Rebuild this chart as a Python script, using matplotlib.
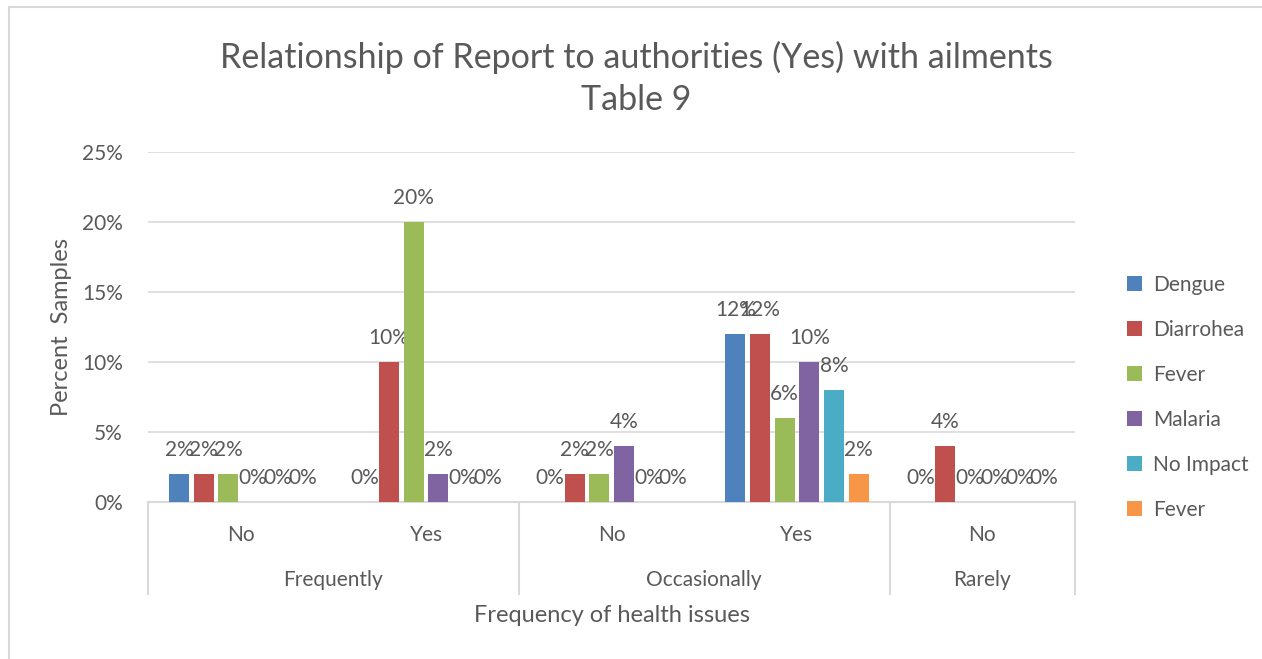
import numpy as np
import matplotlib
matplotlib.use('Agg')
import matplotlib.pyplot as plt
import matplotlib.transforms as mtransforms
from matplotlib.lines import Line2D

plt.rcParams['font.family'] = ['Lato', 'DejaVu Sans']

# sub-categories (report to authorities) and their outer groups (frequency)
sub_labels = ['No', 'Yes', 'No', 'Yes', 'No']
groups = ['Frequently', 'Occasionally', 'Rarely']
group_spans = [(0, 1), (2, 3), (4, 4)]

series = ['Dengue', 'Diarrohea', 'Fever', 'Malaria', 'No Impact', 'Fever']
dengue = [0.02, 0.00, 0.00, 0.12, 0.00]
diarrohea = [0.02, 0.10, 0.02, 0.12, 0.04]
fever = [0.02, 0.20, 0.02, 0.06, 0.00]
malaria = [0.00, 0.02, 0.04, 0.10, 0.00]
no_impact = [0.00, 0.00, 0.00, 0.08, 0.00]
fever_2 = [0.00, 0.00, 0.00, 0.02, 0.00]
values = [dengue, diarrohea, fever, malaria, no_impact, fever_2]

colors = ['#4F81BD', '#C0504D', '#9BBB59', '#8064A2', '#4BACC6', '#F79646']
text_c = '#595959'
grid_c = '#D9D9D9'

W, H = 1262, 659
fig = plt.figure(figsize=(W / 100, H / 100), dpi=100)
fig.patch.set_facecolor('white')

# outer chart border (top and left edges visible)
fig.add_artist(Line2D([9 / W, 1], [1 - 7 / H, 1 - 7 / H], color=grid_c, lw=1.5,
                      transform=fig.transFigure))
fig.add_artist(Line2D([9 / W, 9 / W], [0, 1 - 7 / H], color=grid_c, lw=1.5,
                      transform=fig.transFigure))

left, right, top, bottom = 148, 1075, 152, 502
ax = fig.add_axes([left / W, 1 - bottom / H, (right - left) / W, (bottom - top) / H])

x = np.arange(len(sub_labels))
pitch = 0.133
width = 0.108
for i, (name, vals, c) in enumerate(zip(series, values, colors)):
    pos = x + (i - 2.5) * pitch
    ax.bar(pos, vals, width, color=c, label=name, zorder=3)
    for xp, v in zip(pos, vals):
        ax.annotate(f'{v * 100:.0f}%', (xp, v), xytext=(0, 24),
                    textcoords='offset pixels', ha='center', va='center',
                    fontsize=15, color=text_c)

ax.set_xlim(-0.5, len(sub_labels) - 0.5)
ax.set_ylim(0, 0.25)
ax.set_yticks(np.arange(0, 0.26, 0.05))
ax.set_yticklabels([f'{t:.0f}%' for t in np.arange(0, 26, 5)])
ax.tick_params(axis='y', length=0, pad=18, labelsize=15, labelcolor=text_c)
ax.set_xticks([])
ax.grid(axis='y', color=grid_c, lw=1.2, zorder=0)
for s in ['top', 'right', 'left']:
    ax.spines[s].set_visible(False)
ax.spines['bottom'].set_color(grid_c)
ax.spines['bottom'].set_linewidth(1.5)

# two-level category axis
tr = mtransforms.blended_transform_factory(ax.transData, fig.transFigure)
for xi, lab in zip(x, sub_labels):
    fig.text(xi, 1 - 535 / H, lab, transform=tr, ha='center', va='center',
             fontsize=15, color=text_c)
for g, (a, b) in zip(groups, group_spans):
    fig.text((a + b) / 2, 1 - 580 / H, g, transform=tr, ha='center', va='center',
             fontsize=15, color=text_c)
for xb in [-0.5, 1.5, 3.5, 4.5]:
    fig.add_artist(Line2D([xb, xb], [1 - 502 / H, 1 - 594 / H], color=grid_c,
                          lw=1.5, transform=tr, clip_on=False))

fig.text((left + right) / 2 / W, 1 - 616 / H, 'Frequency of health issues',
         ha='center', va='center', fontsize=17, color=text_c)
fig.text(62 / W, 1 - 327 / H, 'Percent  Samples', rotation=90,
         ha='center', va='center', fontsize=17, color=text_c)

fig.text(636 / W, 1 - 57 / H, 'Relationship of Report to authorities (Yes) with ailments',
         ha='center', va='center', fontsize=24.5, color=text_c)
fig.text(636 / W, 1 - 100 / H, 'Table 9', ha='center', va='center',
         fontsize=24.5, color=text_c)

leg = fig.legend(loc='upper left', bbox_to_anchor=(1108 / W, 1 - 256 / H),
                 frameon=False, fontsize=15, labelcolor=text_c,
                 handlelength=0.75, handleheight=0.75, handletextpad=0.5,
                 labelspacing=1.2)

fig.savefig('out.png', dpi=100, facecolor='white')
